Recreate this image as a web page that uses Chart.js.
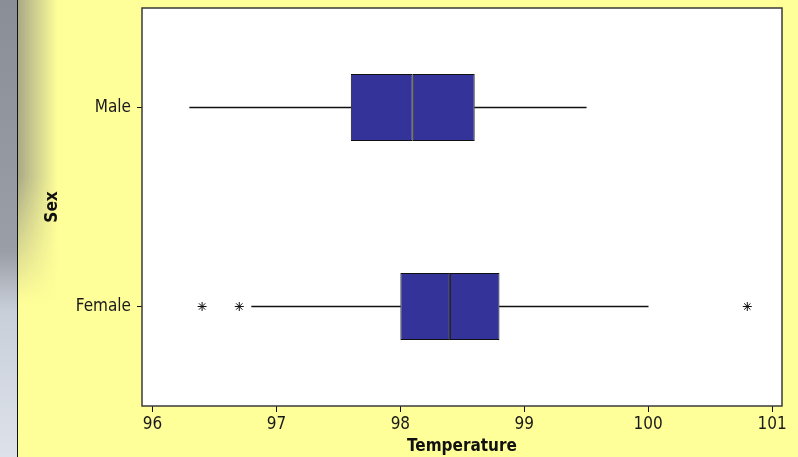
<!DOCTYPE html>
<html lang="en">
<head>
    <meta charset="UTF-8">
    <title>Temperature by Sex</title>
    <style>
        body {
            margin: 0;
            background-color: #ffff99;
            width: 798px;
            height: 457px;
            position: relative;
            overflow: hidden;
        }
        .edge {
            position: absolute;
            left: 0;
            top: 0;
            width: 17px;
            height: 457px;
            background: linear-gradient(to bottom, #8a8e96 0%, #9a9ea6 55%, #c9cfd9 68%, #dde2ea 100%);
            border-right: 1px solid #111;
        }
        .shade {
            position: absolute;
            left: 18px;
            top: 0;
            width: 40px;
            height: 320px;
            background: linear-gradient(to right, rgba(140, 140, 130, 0.75), rgba(255, 255, 153, 0));
            -webkit-mask-image: linear-gradient(to bottom, #000 55%, transparent 95%);
            mask-image: linear-gradient(to bottom, #000 55%, transparent 95%);
        }
        #wrap {
            position: absolute;
            left: 0;
            top: 0;
            width: 798px;
            height: 457px;
        }
    </style>
</head>
<body>
<div class="edge"></div>
<div class="shade"></div>
<div id="wrap"><canvas id="boxChart"></canvas></div>

<script src="https://cdn.jsdelivr.net/npm/chart.js@4.4.1/dist/chart.umd.min.js"></script>
<script>
  const categories = ['Male', 'Female'];
  const minVals = [96.3, 96.8];
  const q1Vals = [97.6, 98.0];
  const medianVals = [98.1, 98.4];
  const q3Vals = [98.6, 98.8];
  const maxVals = [99.5, 100.0];
  const outlierVals = [[], [96.4, 96.7, 100.8]];
  const xTicks = [96, 97, 98, 99, 100, 101];

  const boxColor = '#333399';
  const font = "'DejaVu Sans Condensed', 'DejaVu Sans', sans-serif";

  const span = (a, b) => categories.map((c, i) => [a[i], b[i]]);
  const outlierPoints = [];
  categories.forEach((c, i) => {
    outlierVals[i].forEach(v => outlierPoints.push({ x: v, y: c }));
  });

  // white plot area with a dark frame
  const plotFrame = {
    id: 'plotFrame',
    beforeDraw(chart) {
      const a = chart.chartArea;
      const ctx = chart.ctx;
      ctx.save();
      ctx.fillStyle = '#ffffff';
      ctx.fillRect(a.left, a.top, a.right - a.left, a.bottom - a.top);
      ctx.restore();
    },
    afterDraw(chart) {
      const a = chart.chartArea;
      const ctx = chart.ctx;
      ctx.save();
      ctx.strokeStyle = '#3a3a3a';
      ctx.lineWidth = 1.5;
      ctx.strokeRect(a.left, a.top, a.right - a.left, a.bottom - a.top);
      ctx.restore();
    }
  };

  const whisker = (data) => ({
    data: data,
    grouped: false,
    backgroundColor: '#111111',
    borderWidth: 0,
    barThickness: 1
  });

  const box = (data) => ({
    data: data,
    grouped: false,
    backgroundColor: boxColor,
    borderColor: '#111111',
    borderWidth: 1,
    borderSkipped: false,
    barPercentage: 0.337,
    categoryPercentage: 1
  });

  new Chart(document.getElementById('boxChart'), {
    type: 'bar',
    data: {
      labels: categories,
      datasets: [
        whisker(span(minVals, q1Vals)),
        whisker(span(q3Vals, maxVals)),
        box(span(q1Vals, medianVals)),
        box(span(medianVals, q3Vals)),
        {
          type: 'scatter',
          data: outlierPoints,
          pointStyle: 'star',
          radius: 4.5,
          borderColor: '#111111',
          borderWidth: 1,
          backgroundColor: '#111111'
        }
      ]
    },
    options: {
      indexAxis: 'y',
      responsive: true,
      maintainAspectRatio: false,
      animation: false,
      layout: { padding: { top: 8, right: 16, left: 0, bottom: 0 } },
      plugins: {
        legend: { display: false },
        tooltip: { enabled: false }
      },
      scales: {
        x: {
          type: 'linear',
          min: 95.915,
          max: 101.08,
          afterBuildTicks: scale => { scale.ticks = xTicks.map(v => ({ value: v })); },
          afterFit: scale => { scale.height = 51; },
          grid: { drawOnChartArea: false, tickLength: 6, color: '#111111' },
          border: { display: false },
          ticks: { color: '#1a1a1a', padding: 2, maxRotation: 0, font: { family: font, size: 17 } },
          title: {
            display: true,
            text: 'Temperature',
            color: '#111111',
            padding: { top: 1, bottom: 0 },
            font: { family: font, size: 17, weight: 'bold' }
          }
        },
        y: {
          type: 'category',
          offset: true,
          afterFit: scale => {
            scale.width = 142;
            scale.paddingTop = 0;
            scale.paddingBottom = 0;
          },
          grid: { drawOnChartArea: false, offset: false, tickLength: 5, color: '#111111' },
          border: { display: false },
          ticks: { color: '#1a1a1a', padding: 6, font: { family: font, size: 17 } },
          title: {
            display: true,
            text: 'Sex',
            color: '#111111',
            padding: { top: 42, bottom: 0 },
            font: { family: font, size: 17, weight: 'bold' }
          }
        }
      }
    },
    plugins: [plotFrame]
  });
</script>

</body>
</html>
